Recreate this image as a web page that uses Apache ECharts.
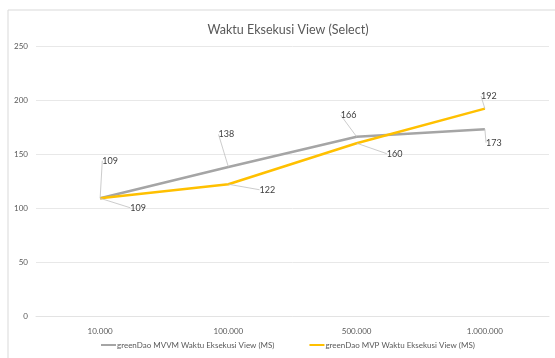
<!DOCTYPE html>
<html>
<head>
<meta charset="utf-8">
<script src="https://cdn.jsdelivr.net/npm/echarts@6/dist/echarts.min.js"></script>
<style>
  html, body { margin: 0; padding: 0; background: #fff; }
  #chart { width: 555px; height: 358px; }
</style>
</head>
<body>
<div id="chart"></div>
<script>
const categories = ['10.000', '100.000', '500.000', '1.000.000']
const mvvmValues = [109, 138, 166, 173]
const mvpValues = [109, 122, 160, 192]
const seriesNames = [
  'greenDao MVVM Waktu Eksekusi View (MS)',
  'greenDao MVP Waktu Eksekusi View (MS)',
]

// label offsets (dx, dy) from the default 'top' spot, like the Excel leader labels
const mvvmLabelShift = [[10, -28], [-2, -23], [-8, -12], [9, 23]]
const mvpLabelShift = [[38, 19], [39, 15], [38, 20], [4, -3]]

const textColor = '#595959'
const font = 'Lato, "Open Sans", sans-serif'

const chart = echarts.init(document.getElementById('chart'), null, { renderer: 'canvas' })

function lineSeries(name, data, color, shift) {
  return {
    name,
    type: 'line',
    data,
    // labels need a symbol to hang on, keep it invisible
    symbol: 'circle',
    symbolSize: 0,
    showSymbol: true,
    lineStyle: { color, width: 2.5 },
    itemStyle: { color },
    label: {
      show: true,
      position: 'top',
      distance: 5,
      fontSize: 9,
      fontFamily: font,
      color: '#404040',
    },
    labelLine: {
      show: true,
      lineStyle: { color: '#bfbfbf', width: 0.8 },
    },
    labelLayout: (p) => ({ dx: shift[p.dataIndex][0], dy: shift[p.dataIndex][1] }),
  }
}

const option = {
  backgroundColor: '#fff',
  animation: false,
  graphic: [
    {
      type: 'rect',
      shape: { x: 8, y: 10, width: 600, height: 400 },
      style: { fill: 'none', stroke: '#d9d9d9', lineWidth: 1 },
      silent: true,
    },
  ],
  title: {
    text: 'Waktu Eksekusi View (Select)',
    left: 283,
    top: 18,
    textAlign: 'center',
    textStyle: { fontSize: 12.5, fontWeight: 'normal', color: textColor, fontFamily: font },
  },
  legend: {
    bottom: 4,
    left: 96,
    itemGap: 35,
    itemWidth: 15,
    itemHeight: 2,
    icon: 'rect',
    textStyle: { fontSize: 8, color: textColor, fontFamily: font, padding: [0, 0, 0, -4] },
    data: seriesNames,
  },
  grid: { left: 36, right: 6, top: 46, bottom: 42 },
  xAxis: {
    type: 'category',
    data: categories,
    boundaryGap: true,
    axisLine: { lineStyle: { color: '#e3e3e3' } },
    axisTick: { show: false },
    axisLabel: { fontSize: 8, color: textColor, fontFamily: font, margin: 11 },
  },
  yAxis: {
    type: 'value',
    min: 0,
    max: 250,
    interval: 50,
    axisLine: { show: false },
    axisTick: { show: false },
    axisLabel: { fontSize: 8, color: textColor, fontFamily: font, margin: 8 },
    splitLine: { lineStyle: { color: '#e8e8e8' } },
  },
  series: [
    lineSeries(seriesNames[0], mvvmValues, '#a5a5a5', mvvmLabelShift),
    lineSeries(seriesNames[1], mvpValues, '#ffc000', mvpLabelShift),
  ],
}

chart.setOption(option)
</script>
</body>
</html>
